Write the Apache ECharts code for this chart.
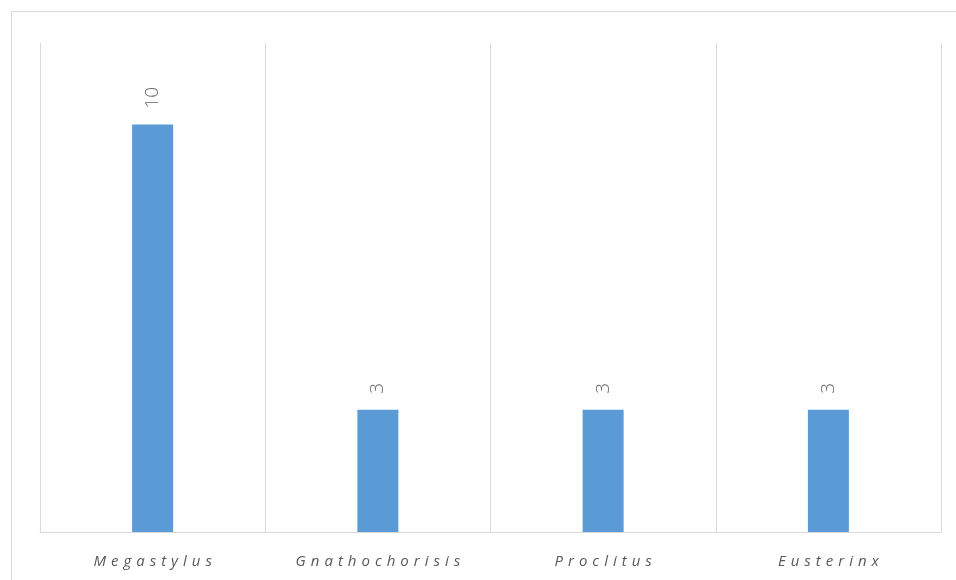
<!DOCTYPE html>
<html>
<head>
<meta charset="utf-8">
<script src="https://cdn.jsdelivr.net/npm/echarts@6/dist/echarts.min.js"></script>
<style>
  html, body { margin: 0; padding: 0; background: #fff; }
  #chart { width: 956px; height: 580px; }
</style>
</head>
<body>
<div id="chart"></div>
<script>
// Datos del gráfico
const generos = ['Megastylus', 'Gnathochorisis', 'Proclitus', 'Eusterinx'];
const valores = [10, 3, 3, 3];

// separa letras para imitar el espaciado del original
const espaciar = (txt) => txt.split('').join('\u2004');

const myChart = echarts.init(document.getElementById('chart'));

const option = {
  animation: false,
  graphic: [
    {
      type: 'rect',
      shape: { x: 11.5, y: 11.5, width: 960, height: 600 },
      style: { fill: 'none', stroke: '#d9d9d9', lineWidth: 1 },
      silent: true,
    },
  ],
  grid: { left: 40, right: 15, top: 43, bottom: 48 },
  xAxis: {
    type: 'category',
    data: generos,
    axisLine: { lineStyle: { color: '#d9d9d9', width: 1 } },
    axisTick: { show: false },
    splitLine: { show: true, interval: 0, lineStyle: { color: '#d9d9d9', width: 1 } },
    axisLabel: {
      interval: 0,
      margin: 22,
      color: '#595959',
      fontSize: 15,
      fontStyle: 'italic',
      fontFamily: 'Open Sans',
      formatter: (v) => espaciar(v),
    },
  },
  yAxis: {
    type: 'value',
    min: 0,
    max: 12,
    show: false,
    splitLine: { show: false },
  },
  series: [
    {
      type: 'bar',
      data: valores,
      barWidth: 41,
      itemStyle: { color: '#5b9bd5' },
      label: {
        show: true,
        position: 'top',
        rotate: 90,
        align: 'left',
        verticalAlign: 'middle',
        distance: 16,
        color: '#666666',
        fontSize: 19,
        fontWeight: 300,
        fontFamily: 'Open Sans',
      },
    },
  ],
};

myChart.setOption(option);
</script>
</body>
</html>
